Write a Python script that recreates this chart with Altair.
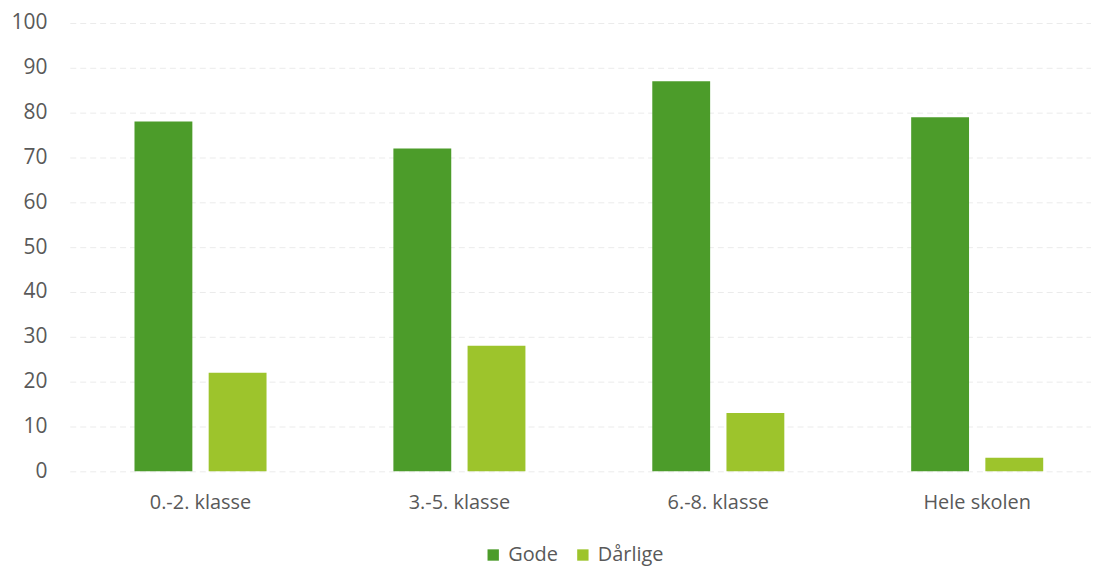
import altair as alt
import pandas as pd

categories = ["0.-2. klasse", "3.-5. klasse", "6.-8. klasse", "Hele skolen"]
series = ["Gode", "Dårlige"]
gode = [78, 72, 87, 79]
darlige = [22, 28, 13, 3]
y_ticks = list(range(0, 101, 10))

rows = []
for c, g, d in zip(categories, gode, darlige):
    rows.append({"kategori": c, "serie": "Gode", "verdi": g})
    rows.append({"kategori": c, "serie": "Dårlige", "verdi": d})
df = pd.DataFrame(rows)

FONT = "Open Sans"

chart = alt.Chart(df).mark_bar().encode(
    x=alt.X("kategori:N", sort=categories, title=None,
            scale=alt.Scale(range=[-2, 1040], paddingInner=0.49, paddingOuter=0.25),
            axis=alt.Axis(labelAngle=0, ticks=False, domain=False, labelPadding=21,
                          labelFontSize=20, labelColor="#595959", labelFont=FONT)),
    xOffset=alt.XOffset("serie:N", sort=series, scale=alt.Scale(paddingInner=0.22, paddingOuter=0)),
    y=alt.Y("verdi:Q", title=None,
            scale=alt.Scale(domain=[0, 100], nice=False),
            axis=alt.Axis(values=y_ticks, ticks=False, domain=False, labelPadding=25,
                          labelFontSize=21, labelColor="#595959", labelFont=FONT,
                          gridColor="#ebebeb", gridDash=[6, 4], gridWidth=1)),
    color=alt.Color("serie:N", sort=series, title=None,
                    scale=alt.Scale(domain=series, range=["#4c9c2a", "#9dc42c"]),
                    legend=alt.Legend(orient="none", legendX=413, legendY=524, direction="horizontal",
                                      symbolType="square", symbolSize=130, symbolStrokeWidth=0,
                                      labelFontSize=20, labelColor="#595959", labelFont=FONT,
                                      columnPadding=14, labelOffset=5)),
).properties(
    width=1013, height=450,
    autosize=alt.AutoSizeParams(type="none"),
    padding={"left": 64, "top": 14, "right": 10, "bottom": 96},
).configure_view(stroke=None)

chart.save("out.html", embed_options={"renderer": "svg", "actions": False})
